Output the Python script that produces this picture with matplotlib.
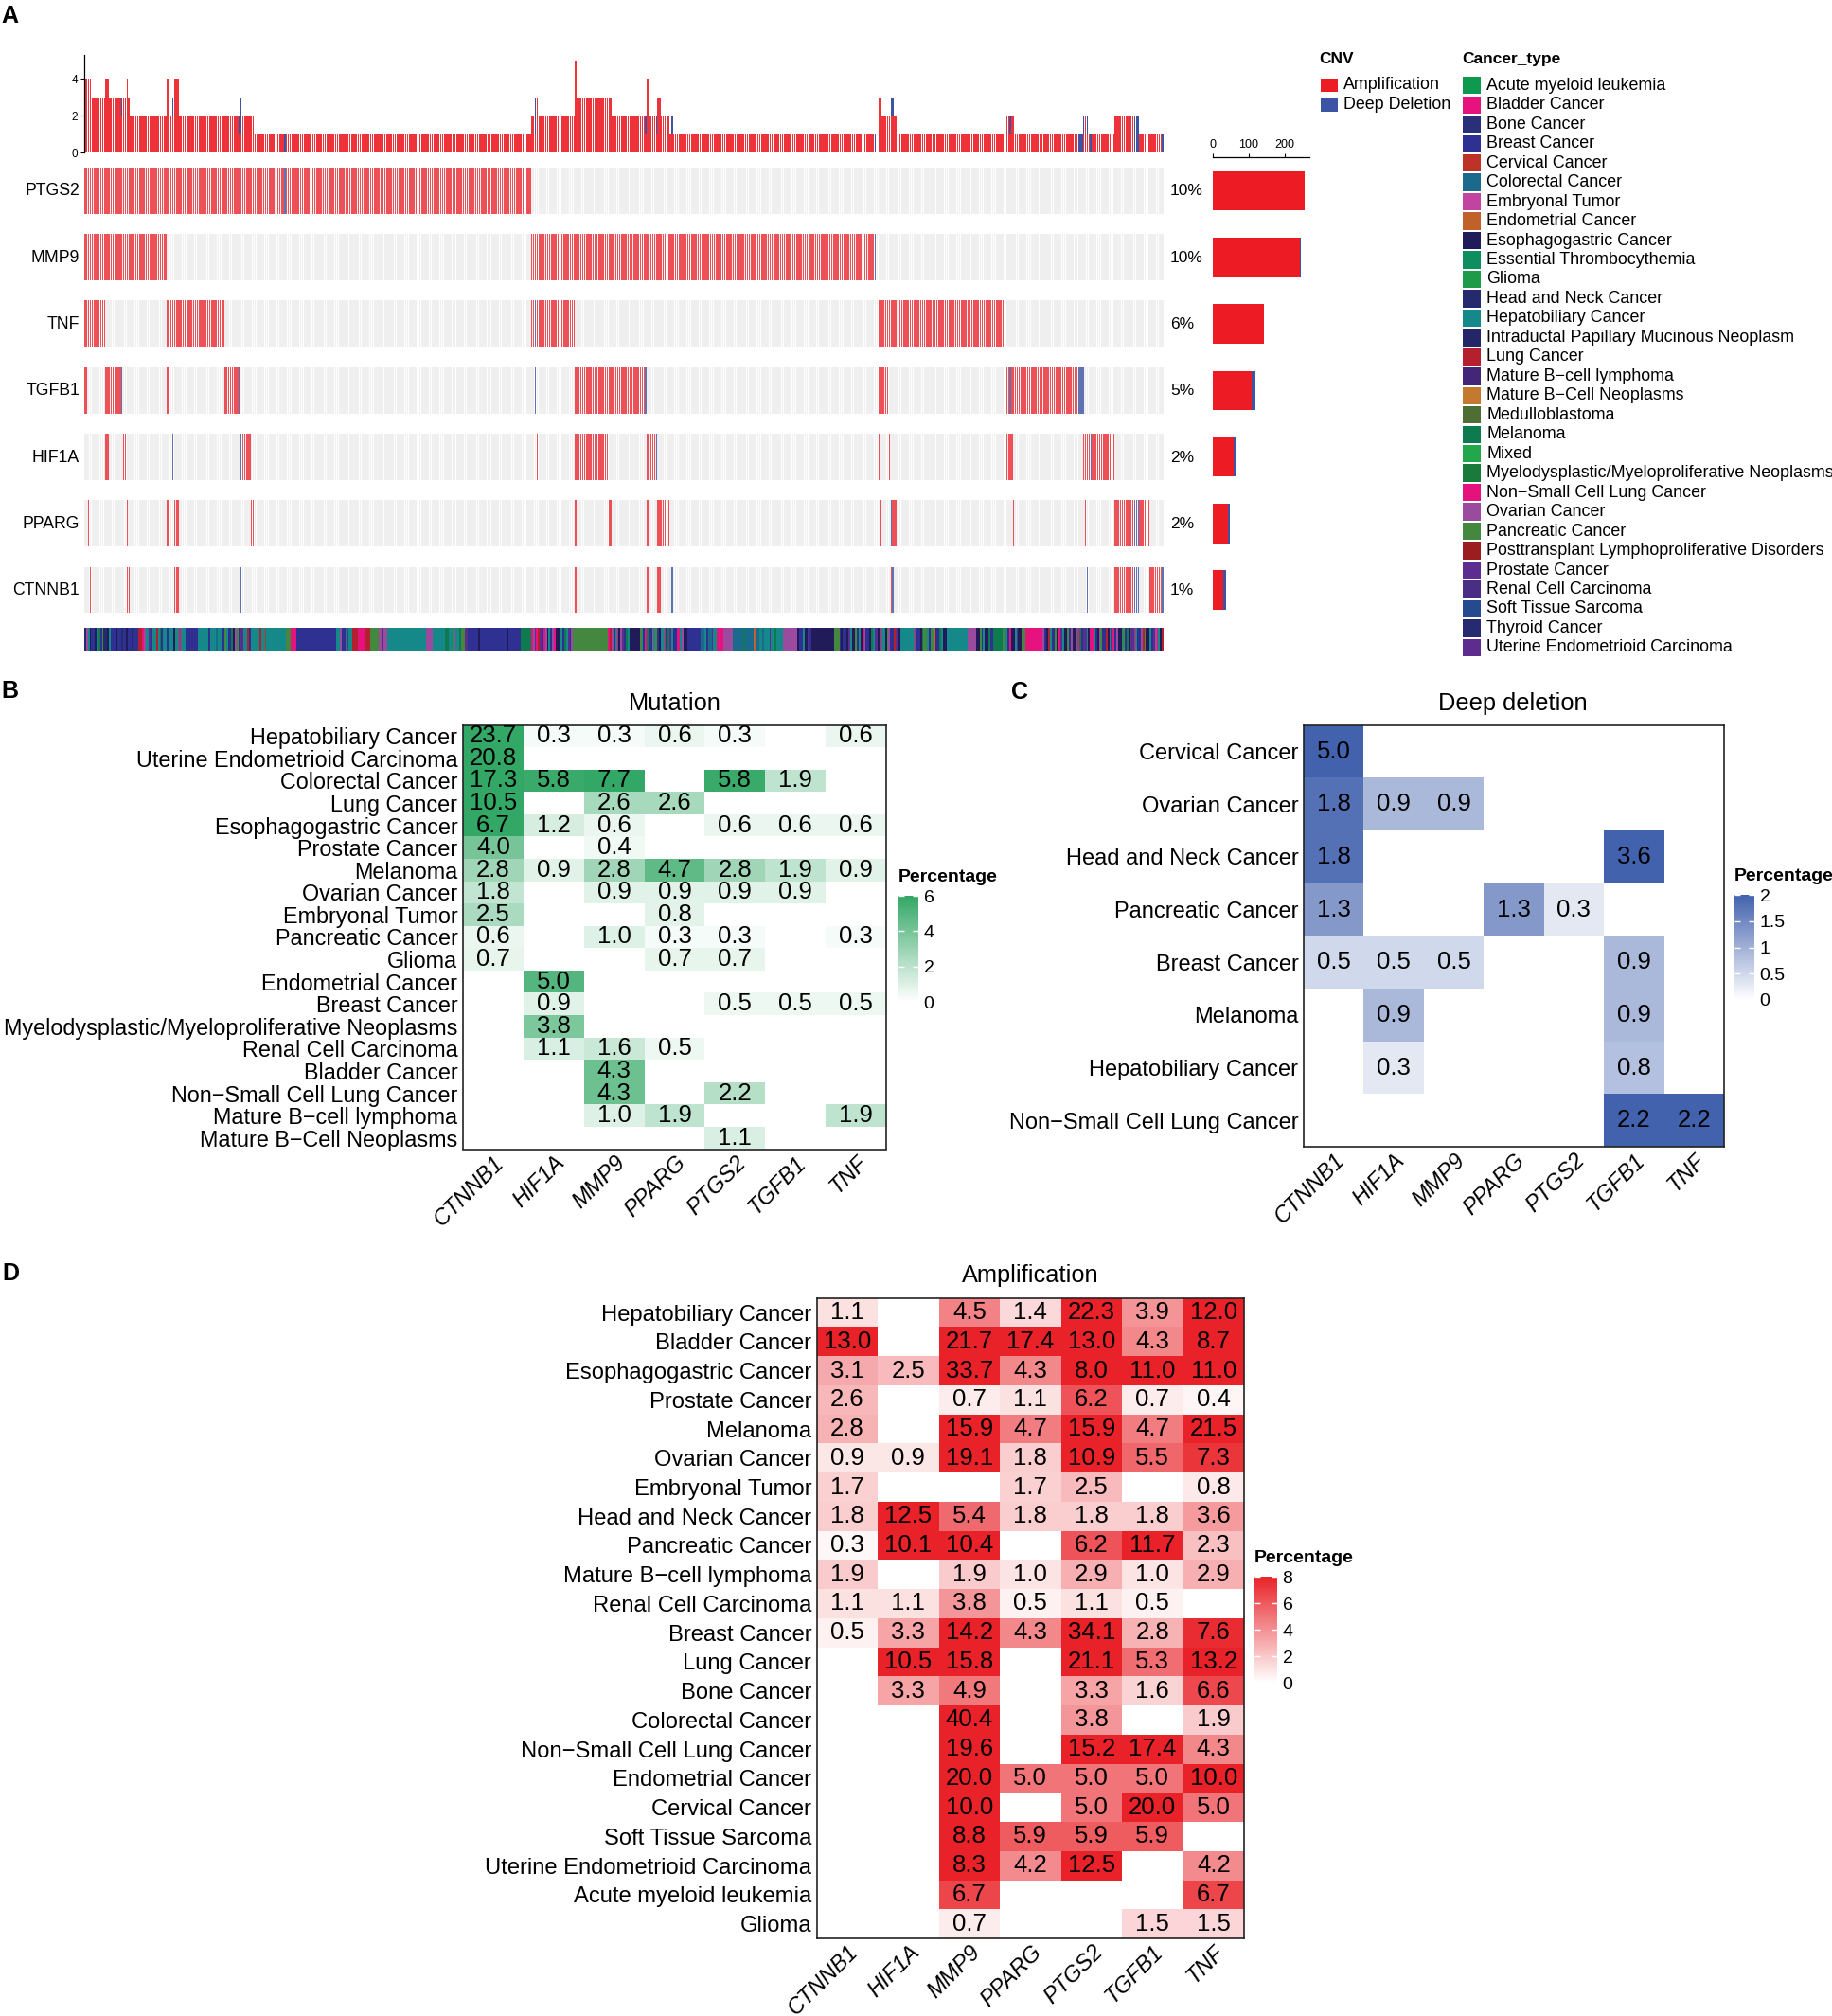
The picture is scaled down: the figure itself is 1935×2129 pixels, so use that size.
import numpy as np
import matplotlib
matplotlib.use('Agg')
import matplotlib.pyplot as plt
from matplotlib.colors import LinearSegmentedColormap, Normalize
from matplotlib.cm import ScalarMappable
from matplotlib.patches import Rectangle

plt.rcParams['font.family'] = ['Liberation Sans', 'DejaVu Sans']

nan = np.nan

# ---------------- Panel A data (oncoprint, runs in sample index) ----------------
n_samples = 616
genes = ['PTGS2', 'MMP9', 'TNF', 'TGFB1', 'HIF1A', 'PPARG', 'CTNNB1']
gene_pct = [10, 10, 6, 5, 2, 2, 1]

ptgs2_amp = [(0, 114), (115, 255)]
ptgs2_del = [(114, 115)]
mmp9_amp = [(0, 47), (255, 451)]
mmp9_del = [(451, 452)]
tnf_amp = [(0, 12), (47, 80), (255, 257), (258, 280), (453, 525)]
tnf_del = [(257, 258)]
tgfb1_amp = [(0, 2), (12, 21), (47, 49), (80, 88), (280, 320), (453, 459), (525, 528), (529, 567)]
tgfb1_del = [(21, 22), (88, 89), (257, 258), (320, 321), (528, 529), (567, 571)]
hif1a_amp = [(12, 14), (22, 24), (90, 95), (258, 259), (280, 299), (321, 326), (453, 454),
             (459, 460), (525, 530), (570, 574), (575, 588)]
hif1a_del = [(50, 51), (89, 90), (326, 327), (574, 575)]
pparg_amp = [(2, 3), (24, 25), (47, 48), (51, 54), (95, 97), (280, 281), (299, 301), (321, 322),
             (327, 334), (454, 455), (461, 464), (530, 531), (571, 572), (588, 599), (602, 608)]
pparg_del = [(460, 461), (599, 602)]
ctnnb1_amp = [(3, 4), (24, 26), (51, 54), (280, 281), (321, 322), (327, 329), (460, 461),
              (588, 599), (608, 615)]
ctnnb1_del = [(89, 90), (335, 336), (461, 462), (572, 573), (599, 602), (615, 616)]

amp_runs = [ptgs2_amp, mmp9_amp, tnf_amp, tgfb1_amp, hif1a_amp, pparg_amp, ctnnb1_amp]
del_runs = [ptgs2_del, mmp9_del, tnf_del, tgfb1_del, hif1a_del, pparg_del, ctnnb1_del]

cancer_types = ['Acute myeloid leukemia', 'Bladder Cancer', 'Bone Cancer', 'Breast Cancer',
                'Cervical Cancer', 'Colorectal Cancer', 'Embryonal Tumor', 'Endometrial Cancer',
                'Esophagogastric Cancer', 'Essential Thrombocythemia', 'Glioma',
                'Head and Neck Cancer', 'Hepatobiliary Cancer',
                'Intraductal Papillary Mucinous Neoplasm', 'Lung Cancer',
                'Mature B\u2212cell lymphoma', 'Mature B\u2212Cell Neoplasms', 'Medulloblastoma',
                'Melanoma', 'Mixed', 'Myelodysplastic/Myeloproliferative Neoplasms',
                'Non\u2212Small Cell Lung Cancer', 'Ovarian Cancer', 'Pancreatic Cancer',
                'Posttransplant Lymphoproliferative Disorders', 'Prostate Cancer',
                'Renal Cell Carcinoma', 'Soft Tissue Sarcoma', 'Thyroid Cancer',
                'Uterine Endometrioid Carcinoma']
cancer_codes = ['AML', 'BLA', 'BON', 'BRE', 'CER', 'COL', 'EMB', 'END', 'ESO', 'ET', 'GLI',
                'HNC', 'HEP', 'IPM', 'LUN', 'MBL', 'MBN', 'MED', 'MEL', 'MIX', 'MDS', 'NSC',
                'OVA', 'PAN', 'PTL', 'PRO', 'REN', 'STS', 'THY', 'UEC']
cancer_colors = ['#0E9A4E', '#E6127E', '#2A2F7A', '#2E3192', '#BE3327', '#1A6A8E', '#C145A0',
                 '#C0612B', '#221B5A', '#0E8D5E', '#1E9B48', '#252A6E', '#15888A', '#242668',
                 '#B5202E', '#432677', '#C47A2E', '#4F6E33', '#0E7A50', '#22A84A', '#1A7A3C',
                 '#E5127D', '#9B4B9E', '#44883F', '#9B1D20', '#5B2D91', '#4A2E86', '#254B8E',
                 '#262B70', '#5E2C8F']

# cancer type of each sample, as (type code, run length)
cancer_runs = [
    ('HNC', 1), ('OVA', 1), ('HEP', 1), ('ESO', 1),
    ('BRE', 2), ('ESO', 1), ('HEP', 1), ('MEL', 1), ('BRE', 1), ('PAN', 1), ('HNC', 2), ('ESO', 1), ('HEP', 1),
    ('BRE', 3), ('ESO', 1), ('BRE', 2), ('THY', 1), ('BRE', 2), ('ESO', 1), ('BRE', 2), ('HNC', 1), ('BRE', 3),
    ('LUN', 2), ('BLA', 1), ('OVA', 1),
    ('HEP', 2), ('PRO', 1), ('BRE', 1), ('HEP', 2), ('LUN', 1), ('HEP', 1), ('MEL', 1), ('BRE', 1), ('HEP', 2),
    ('BRE', 1), ('HEP', 3), ('ESO', 1), ('HEP', 2), ('BLA', 1), ('HEP', 3), ('BRE', 1),
    ('BRE', 6),
    ('HEP', 6), ('BRE', 1), ('HEP', 3), ('COL', 1), ('HEP', 3),
    ('BRE', 1), ('PAN', 1), ('HEP', 1), ('BRE', 2), ('MEL', 1), ('ESO', 1), ('OVA', 1), ('PAN', 1), ('BRE', 1),
    ('PRO', 2), ('HEP', 2), ('LUN', 1), ('BRE', 1), ('HEP', 2),
    ('HEP', 3), ('LUN', 1), ('HEP', 2), ('CER', 1), ('HEP', 1),
    ('HEP', 10), ('PAN', 3), ('BLA', 3), ('BRE', 23),
    ('HEP', 2), ('OVA', 1), ('BRE', 2), ('HEP', 1), ('PRO', 1), ('HEP', 2),
    ('LUN', 3), ('BLA', 4), ('LUN', 3), ('PAN', 5), ('OVA', 2), ('PRO', 1), ('OVA', 2),
    ('HEP', 22), ('OVA', 4), ('HEP', 7),
    ('MEL', 2), ('HEP', 2), ('PAN', 1), ('OVA', 1), ('HEP', 2), ('MEL', 1), ('PAN', 2), ('PRO', 2),
    ('BRE', 6), ('ESO', 1), ('BRE', 15), ('ESO', 1), ('BRE', 7),
    ('MEL', 6),
    ('BLA', 1), ('OVA', 1), ('PRO', 1), ('BLA', 1), ('LUN', 1), ('PRO', 1), ('BRE', 1), ('BLA', 1), ('OVA', 1),
    ('ESO', 1), ('HEP', 1), ('BRE', 1), ('OVA', 1), ('BLA', 1), ('ESO', 3), ('HEP', 1), ('BRE', 1), ('MEL', 1),
    ('HEP', 1), ('PRO', 1), ('BRE', 1), ('OVA', 1), ('PAN', 2),
    ('PAN', 18),
    ('BLA', 1), ('LUN', 1), ('OVA', 1), ('BRE', 1), ('HEP', 1), ('BLA', 1), ('ESO', 1), ('OVA', 1), ('PRO', 1),
    ('BRE', 1), ('MEL', 1), ('HEP', 1),
    ('ESO', 6),
    ('PAN', 1), ('HEP', 1), ('BRE', 1), ('BLA', 1), ('MEL', 1), ('BRE', 2), ('OVA', 1), ('HEP', 1), ('PAN', 1),
    ('BRE', 1), ('ESO', 1), ('HEP', 2), ('BLA', 1), ('BRE', 1), ('MEL', 1), ('PRO', 1), ('HEP', 1), ('BRE', 2),
    ('BLA', 2), ('HEP', 1), ('OVA', 1), ('ESO', 2),
    ('BRE', 8),
    ('COL', 2), ('HEP', 1), ('BRE', 1), ('COL', 2), ('PRO', 1), ('HEP', 2),
    ('BLA', 4), ('OVA', 5),
    ('COL', 6), ('MEL', 1), ('COL', 5), ('END', 1), ('COL', 2),
    ('HEP', 2), ('COL', 1), ('HEP', 3), ('PRO', 1), ('HEP', 2), ('MEL', 1), ('HEP', 4),
    ('OVA', 8),
    ('ESO', 1), ('BRE', 2), ('HEP', 1), ('ESO', 2), ('PRO', 1), ('BRE', 1),
    ('ESO', 13),
    ('PAN', 3), ('BRE', 1), ('ESO', 1), ('BRE', 2), ('ESO', 1), ('PRO', 1), ('HEP', 1), ('ESO', 2), ('PAN', 1),
    ('BRE', 1), ('HEP', 1), ('ESO', 1), ('BLA', 1), ('OVA', 1), ('BRE', 2), ('ESO', 1), ('MEL', 1), ('HEP', 1),
    ('PRO', 2), ('ESO', 1), ('BLA', 1), ('HEP', 2), ('ESO', 1), ('PAN', 1), ('OVA', 1), ('BRE', 2), ('LUN', 1),
    ('PRO', 1), ('ESO', 2),
    ('HEP', 8),
    ('BLA', 1), ('BRE', 2), ('ESO', 1), ('MEL', 1), ('PAN', 2), ('HEP', 1), ('BRE', 1), ('PAN', 2), ('END', 1),
    ('BRE', 2), ('MEL', 1), ('HEP', 1), ('ESO', 2),
    ('HEP', 12), ('OVA', 5),
    ('ESO', 2), ('PAN', 1), ('BRE', 1), ('HEP', 1), ('ESO', 2), ('MEL', 1), ('BRE', 2),
    ('MEL', 5),
    ('PAN', 2), ('HEP', 1), ('BRE', 1), ('BLA', 1), ('ESO', 2), ('HEP', 1), ('PRO', 1), ('ESO', 2), ('PAN', 2),
    ('BLA', 10),
    ('OVA', 1), ('BRE', 1), ('ESO', 1), ('LUN', 1), ('HEP', 1), ('BRE', 2), ('PAN', 1), ('ESO', 1), ('BLA', 1),
    ('PRO', 1), ('HEP', 1), ('ESO', 2), ('PAN', 1), ('BRE', 1), ('OVA', 1), ('ESO', 2), ('HEP', 1), ('BLA', 1),
    ('MEL', 1), ('BRE', 1), ('PRO', 2), ('HEP', 1), ('ESO', 1), ('BLA', 2), ('HEP', 1), ('BRE', 1), ('ESO', 1),
    ('OVA', 1), ('PAN', 1), ('BRE', 2), ('LUN', 1), ('ESO', 1), ('HEP', 1), ('PRO', 1), ('BLA', 1), ('BRE', 1),
    ('OVA', 1), ('ESO', 2), ('HEP', 1), ('PAN', 1), ('BRE', 1), ('MEL', 1), ('ESO', 1), ('PRO', 2), ('BLA', 1),
    ('HEP', 1), ('BRE', 2), ('OVA', 1), ('LUN', 1), ('PAN', 1), ('ESO', 2), ('HEP', 1), ('BRE', 1), ('PRO', 1),
    ('OVA', 1), ('BLA', 1), ('HEP', 1), ('ESO', 1), ('LUN', 1),
]

# ---------------- Panels B, C, D data ----------------
hm_genes = ['CTNNB1', 'HIF1A', 'MMP9', 'PPARG', 'PTGS2', 'TGFB1', 'TNF']

mut_rows = ['Hepatobiliary Cancer', 'Uterine Endometrioid Carcinoma', 'Colorectal Cancer',
            'Lung Cancer', 'Esophagogastric Cancer', 'Prostate Cancer', 'Melanoma',
            'Ovarian Cancer', 'Embryonal Tumor', 'Pancreatic Cancer', 'Glioma',
            'Endometrial Cancer', 'Breast Cancer',
            'Myelodysplastic/Myeloproliferative Neoplasms', 'Renal Cell Carcinoma',
            'Bladder Cancer', 'Non\u2212Small Cell Lung Cancer', 'Mature B\u2212cell lymphoma',
            'Mature B\u2212Cell Neoplasms']
mut_vals = [
    [23.7, 0.3, 0.3, 0.6, 0.3, nan, 0.6],
    [20.8, nan, nan, nan, nan, nan, nan],
    [17.3, 5.8, 7.7, nan, 5.8, 1.9, nan],
    [10.5, nan, 2.6, 2.6, nan, nan, nan],
    [6.7, 1.2, 0.6, nan, 0.6, 0.6, 0.6],
    [4.0, nan, 0.4, nan, nan, nan, nan],
    [2.8, 0.9, 2.8, 4.7, 2.8, 1.9, 0.9],
    [1.8, nan, 0.9, 0.9, 0.9, 0.9, nan],
    [2.5, nan, nan, 0.8, nan, nan, nan],
    [0.6, nan, 1.0, 0.3, 0.3, nan, 0.3],
    [0.7, nan, nan, 0.7, 0.7, nan, nan],
    [nan, 5.0, nan, nan, nan, nan, nan],
    [nan, 0.9, nan, nan, 0.5, 0.5, 0.5],
    [nan, 3.8, nan, nan, nan, nan, nan],
    [nan, 1.1, 1.6, 0.5, nan, nan, nan],
    [nan, nan, 4.3, nan, nan, nan, nan],
    [nan, nan, 4.3, nan, 2.2, nan, nan],
    [nan, nan, 1.0, 1.9, nan, nan, 1.9],
    [nan, nan, nan, nan, 1.1, nan, nan],
]

del_rows = ['Cervical Cancer', 'Ovarian Cancer', 'Head and Neck Cancer', 'Pancreatic Cancer',
            'Breast Cancer', 'Melanoma', 'Hepatobiliary Cancer', 'Non\u2212Small Cell Lung Cancer']
del_vals = [
    [5.0, nan, nan, nan, nan, nan, nan],
    [1.8, 0.9, 0.9, nan, nan, nan, nan],
    [1.8, nan, nan, nan, nan, 3.6, nan],
    [1.3, nan, nan, 1.3, 0.3, nan, nan],
    [0.5, 0.5, 0.5, nan, nan, 0.9, nan],
    [nan, 0.9, nan, nan, nan, 0.9, nan],
    [nan, 0.3, nan, nan, nan, 0.8, nan],
    [nan, nan, nan, nan, nan, 2.2, 2.2],
]

amp_rows = ['Hepatobiliary Cancer', 'Bladder Cancer', 'Esophagogastric Cancer', 'Prostate Cancer',
            'Melanoma', 'Ovarian Cancer', 'Embryonal Tumor', 'Head and Neck Cancer',
            'Pancreatic Cancer', 'Mature B\u2212cell lymphoma', 'Renal Cell Carcinoma',
            'Breast Cancer', 'Lung Cancer', 'Bone Cancer', 'Colorectal Cancer',
            'Non\u2212Small Cell Lung Cancer', 'Endometrial Cancer', 'Cervical Cancer',
            'Soft Tissue Sarcoma', 'Uterine Endometrioid Carcinoma', 'Acute myeloid leukemia',
            'Glioma']
amp_vals = [
    [1.1, nan, 4.5, 1.4, 22.3, 3.9, 12.0],
    [13.0, nan, 21.7, 17.4, 13.0, 4.3, 8.7],
    [3.1, 2.5, 33.7, 4.3, 8.0, 11.0, 11.0],
    [2.6, nan, 0.7, 1.1, 6.2, 0.7, 0.4],
    [2.8, nan, 15.9, 4.7, 15.9, 4.7, 21.5],
    [0.9, 0.9, 19.1, 1.8, 10.9, 5.5, 7.3],
    [1.7, nan, nan, 1.7, 2.5, nan, 0.8],
    [1.8, 12.5, 5.4, 1.8, 1.8, 1.8, 3.6],
    [0.3, 10.1, 10.4, nan, 6.2, 11.7, 2.3],
    [1.9, nan, 1.9, 1.0, 2.9, 1.0, 2.9],
    [1.1, 1.1, 3.8, 0.5, 1.1, 0.5, nan],
    [0.5, 3.3, 14.2, 4.3, 34.1, 2.8, 7.6],
    [nan, 10.5, 15.8, nan, 21.1, 5.3, 13.2],
    [nan, 3.3, 4.9, nan, 3.3, 1.6, 6.6],
    [nan, nan, 40.4, nan, 3.8, nan, 1.9],
    [nan, nan, 19.6, nan, 15.2, 17.4, 4.3],
    [nan, nan, 20.0, 5.0, 5.0, 5.0, 10.0],
    [nan, nan, 10.0, nan, 5.0, 20.0, 5.0],
    [nan, nan, 8.8, 5.9, 5.9, 5.9, nan],
    [nan, nan, 8.3, 4.2, 12.5, nan, 4.2],
    [nan, nan, 6.7, nan, nan, nan, 6.7],
    [nan, nan, 0.7, nan, nan, 1.5, 1.5],
]

# ---------------- figure helpers (pixel layout) ----------------
W, H = 1935, 2129
fig = plt.figure(figsize=(W / 100, H / 100), dpi=100)


def px_ax(x0, y0, x1, y1):
    return fig.add_axes([x0 / W, 1 - y1 / H, (x1 - x0) / W, (y1 - y0) / H])


def px_text(x, y, s, **kw):
    fig.text(x / W, 1 - y / H, s, **kw)


RED = '#ED1C24'
BLUE = '#3B54A4'

# build CNV matrix: 1 = amplification, 2 = deep deletion
cnv = np.zeros((len(genes), n_samples), dtype=int)
for i in range(len(genes)):
    for a, b in amp_runs[i]:
        cnv[i, a:b] = 1
    for a, b in del_runs[i]:
        cnv[i, a:b] = 2

x = np.arange(n_samples)

# === Panel A: top barplot (alterations per sample) ===
ax_top = px_ax(89, 57.7, 1229, 161.3)
n_amp = (cnv == 1).sum(axis=0)
n_del = (cnv == 2).sum(axis=0)
ax_top.bar(x + 0.12, n_amp, width=0.76, align='edge', color=RED, linewidth=0, alpha=0.9)
ax_top.bar(x + 0.12, n_del, bottom=n_amp, width=0.76, align='edge', color=BLUE, linewidth=0)
ax_top.set_xlim(0, n_samples)
ax_top.set_ylim(0, 5.31)
for s in ['top', 'right', 'bottom']:
    ax_top.spines[s].set_visible(False)
ax_top.spines['left'].set_linewidth(0.9)
ax_top.set_xticks([])
ax_top.set_yticks([0, 2, 4])
ax_top.tick_params(axis='y', labelsize=8.5, length=3, width=0.8, pad=2)

# === Panel A: oncoprint ===
ax_onc = px_ax(89, 176.7, 1229, 647.5)
row_h = 0.697
for i in range(len(genes)):
    ax_onc.bar(x + 0.1, row_h, bottom=i - row_h / 2, width=0.8, align='edge',
               color='#EFEFEF', linewidth=0)
    amp_idx = np.where(cnv[i] == 1)[0]
    del_idx = np.where(cnv[i] == 2)[0]
    ax_onc.bar(amp_idx + 0.15, row_h, bottom=i - row_h / 2, width=0.7, align='edge',
               color=RED, linewidth=0, alpha=0.75)
    ax_onc.bar(del_idx + 0.15, row_h, bottom=i - row_h / 2, width=0.7, align='edge',
               color=BLUE, linewidth=0, alpha=0.8)
ax_onc.set_xlim(0, n_samples)
ax_onc.set_ylim(len(genes) - 1 + row_h / 2, -row_h / 2)
ax_onc.axis('off')

for i, g in enumerate(genes):
    yc = 202 + 70.3 * i
    px_text(84, yc, g, ha='right', va='center', fontsize=12.7)
    px_text(1236, yc, f'{gene_pct[i]}%', ha='left', va='center', fontsize=12.5)

# === Panel A: cancer type annotation ===
ax_ct = px_ax(89, 662.7, 1229, 688.3)
code_color = dict(zip(cancer_codes, cancer_colors))
start = 0
for code, length in cancer_runs:
    ax_ct.broken_barh([(start, length)], (0, 1), facecolors=code_color[code], linewidth=0)
    start += length
ax_ct.set_xlim(0, n_samples)
ax_ct.set_ylim(0, 1)
ax_ct.axis('off')

# === Panel A: right barplot (alteration counts per gene) ===
ax_bar = px_ax(1281, 165.7, 1383, 657)
amp_tot = (cnv == 1).sum(axis=1)
del_tot = (cnv == 2).sum(axis=1)
yy = np.arange(len(genes))
ax_bar.barh(yy, amp_tot, height=0.59, color=RED, linewidth=0)
ax_bar.barh(yy, del_tot, left=amp_tot, height=0.59, color=BLUE, linewidth=0)
ax_bar.set_xlim(0, 268)
ax_bar.set_ylim(6.481, -0.508)
for s in ['bottom', 'right', 'left']:
    ax_bar.spines[s].set_visible(False)
ax_bar.spines['top'].set_linewidth(0.9)
ax_bar.set_yticks([])
ax_bar.xaxis.tick_top()
ax_bar.set_xticks([0, 100, 200])
ax_bar.tick_params(axis='x', labelsize=9, length=3, width=0.8, pad=2)

# === Panel A: legends ===
ax_leg = px_ax(1380, 40, 1935, 700)
ax_leg.set_xlim(1380, 1935)
ax_leg.set_ylim(700, 40)
ax_leg.axis('off')
ax_leg.text(1393, 63, 'CNV', fontsize=12.5, fontweight='bold', ha='left', va='center')
for k, (lab, col) in enumerate([('Amplification', RED), ('Deep Deletion', BLUE)]):
    yc = 90 + 20.8 * k
    ax_leg.add_patch(Rectangle((1394.5, yc - 7.2), 18, 14.4, facecolor=col, edgecolor='none'))
    ax_leg.text(1419, yc, lab, fontsize=12.9, ha='left', va='center')
ax_leg.text(1544, 63, 'Cancer_type', fontsize=12.5, fontweight='bold', ha='left', va='center')
for k, (lab, col) in enumerate(zip(cancer_types, cancer_colors)):
    yc = 90.3 + 20.47 * k
    ax_leg.add_patch(Rectangle((1545, yc - 9.2), 18.5, 18.4, facecolor=col, edgecolor='none'))
    ax_leg.text(1570, yc, lab, fontsize=12.9, ha='left', va='center')


# === Panels B, C, D: heatmaps ===
def heatmap(box, rows, vals, high, vmax, title, title_xy, cb_box, cb_ticks, cb_labels, row_fs):
    x0, y0, x1, y1 = box
    ax = px_ax(x0, y0, x1, y1)
    cmap = LinearSegmentedColormap.from_list('c', ['#FFFFFF', high])
    norm = Normalize(0, vmax, clip=True)
    arr = np.ma.masked_invalid(np.array(vals, dtype=float))
    ax.pcolormesh(np.arange(len(hm_genes) + 1), np.arange(len(rows) + 1), arr,
                  cmap=cmap, norm=norm, edgecolor='none', antialiased=False)
    ax.set_xlim(0, len(hm_genes))
    ax.set_ylim(len(rows), 0)
    for i in range(len(rows)):
        for j in range(len(hm_genes)):
            v = vals[i][j]
            if not np.isnan(v):
                ax.text(j + 0.5, i + 0.5, f'{v:.1f}', ha='center', va='center', fontsize=18.5)
    ax.set_yticks(np.arange(len(rows)) + 0.5)
    ax.set_yticklabels(rows, fontsize=row_fs)
    ax.set_xticks(np.arange(len(hm_genes)) + 0.5)
    ax.set_xticklabels(hm_genes, fontsize=17, style='italic', rotation=45,
                       ha='right', va='top', rotation_mode='anchor')
    ax.tick_params(axis='y', length=0, pad=4)
    ax.tick_params(axis='x', length=0, pad=2)
    for s in ax.spines.values():
        s.set_linewidth(1.2)
        s.set_color('#222222')
    px_text(title_xy[0], title_xy[1], title, ha='center', va='center', fontsize=18.3)

    cx0, cy0, cx1, cy1 = cb_box
    px_text(cx0, cy0 - 20, 'Percentage', ha='left', va='center', fontsize=14, fontweight='bold')
    cax = px_ax(cx0, cy0, cx1, cy1)
    cb = fig.colorbar(ScalarMappable(norm=norm, cmap=cmap), cax=cax)
    cb.outline.set_visible(False)
    cb.set_ticks(cb_ticks)
    cb.set_ticklabels(cb_labels)
    cax.tick_params(axis='y', direction='in', color='white', length=4, width=1,
                    left=True, right=True, labelsize=14, pad=4)
    return ax


heatmap((489, 765.5, 936, 1213.5), mut_rows, mut_vals, '#33A765', 6, 'Mutation', (712.5, 743),
        (948.5, 946, 970, 1058), [0, 2, 4, 6], ['0', '2', '4', '6'], 16.8)
heatmap((1377, 765.7, 1821, 1211), del_rows, del_vals, '#4262AE', 2, 'Deep deletion', (1598, 743),
        (1832, 945, 1853, 1056), [0, 0.5, 1, 1.5, 2], ['0', '0.5', '1', '1.5', '2'], 17.0)
heatmap((862.7, 1370.7, 1314, 2047), amp_rows, amp_vals, '#E82228', 8, 'Amplification', (1088, 1347),
        (1325, 1665, 1349, 1777), [0, 2, 4, 6, 8], ['0', '2', '4', '6', '8'], 17.1)

# panel letters
for lab, lx, ly in [('A', 10, 17), ('B', 10, 730), ('C', 1077, 731), ('D', 11, 1345)]:
    px_text(lx, ly, lab, ha='center', va='center', fontsize=18, fontweight='bold')

fig.savefig('out.png', dpi=100)
